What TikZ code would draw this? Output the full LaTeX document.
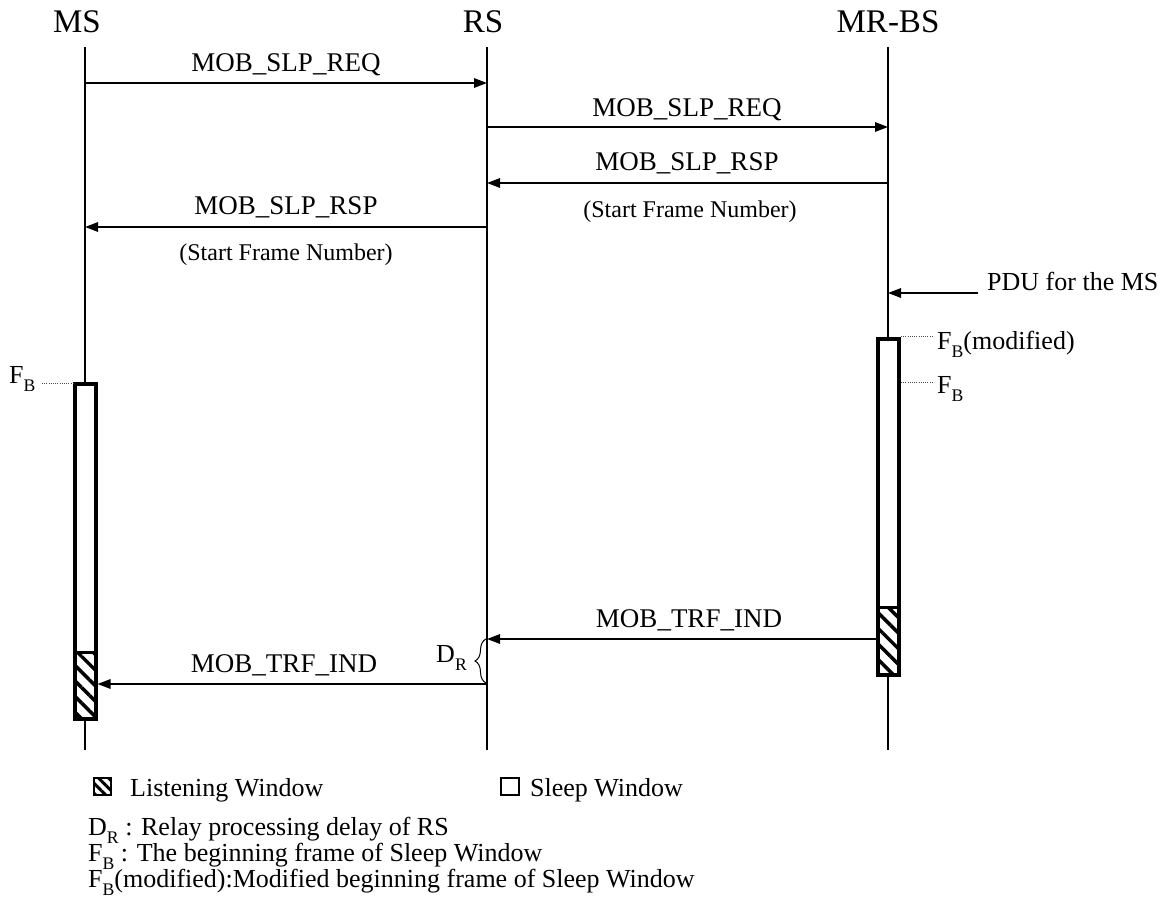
\documentclass[tikz,border=0pt]{standalone}
\usepackage{fontspec}
\setmainfont{Liberation Serif}
\usetikzlibrary{arrows.meta,patterns.meta,decorations.pathreplacing}
\newcommand\lsub[1]{\raisebox{-0.32em}{\scalebox{0.68}{#1}}}
\begin{document}
\begin{tikzpicture}[x=1pt,y=-1pt,
  life/.style={line width=1.4pt},
  msg/.style={line width=1.4pt,-{Triangle[length=13pt,width=9.5pt]}},
  lbl/.style={font=\fontsize{27}{30}\selectfont,anchor=base,inner sep=0pt},
  note/.style={font=\fontsize{24}{28}\selectfont,anchor=base,inner sep=0pt},
  txt/.style={font=\fontsize{26}{30}\selectfont,anchor=base west,inner sep=0pt},
  ttl/.style={font=\fontsize{33}{36}\selectfont,anchor=base,inner sep=0pt},
  winbox/.style={draw,line width=2.7pt,fill=white,inner sep=0pt,minimum width=20.5pt},
  listen/.style={pattern={Lines[angle=-45,distance=11pt,line width=3.5pt]}},
  listensmall/.style={pattern={Lines[angle=-45,distance=7pt,line width=3pt]}},
  dots/.style={line width=1pt,draw=black!70,dash pattern=on 1pt off 1.2pt}]
\useasboundingbox (0,0) rectangle (1162,917);

% titles
\node[ttl] (msT) at (77,33) {MS};
\node[ttl] (rsT) at (483,33) {RS};
\node[ttl] (bsT) at (888,33) {MR-BS};

% lifelines
\coordinate (msTop) at (85,47);  \coordinate (msBot) at (85,750);
\coordinate (rsTop) at (487,47); \coordinate (rsBot) at (487,750);
\coordinate (bsTop) at (888,47); \coordinate (bsBot) at (888,750);
\draw[life] (msTop) -- (msBot);
\draw[life] (rsTop) -- (rsBot);
\draw[life] (bsTop) -- (bsBot);

% windows
\node[winbox,minimum height=334pt,anchor=north] (msW) at (85.5,383) {};
\fill[listen] (msW.south west) rectangle ([yshift=67pt]msW.south east);
\draw[line width=2.7pt] ([yshift=67pt]msW.south west) -- ([yshift=67pt]msW.south east);
\draw[line width=2.7pt] (msW.south west) rectangle (msW.north east);

\node[winbox,minimum height=335pt,anchor=north] (bsW) at (888.5,338) {};
\fill[listen] (bsW.south west) rectangle ([yshift=68pt]bsW.south east);
\draw[line width=2.7pt] ([yshift=68pt]bsW.south west) -- ([yshift=68pt]bsW.south east);
\draw[line width=2.7pt] (bsW.south west) rectangle (bsW.north east);

% messages
\coordinate (ms1) at (85,83);  \coordinate (rs1) at (487,83);
\draw[msg] (ms1) -- (rs1);
\node[lbl] (l1) at (286,72) {MOB\_SLP\_REQ};

\coordinate (rs2) at (487,127); \coordinate (bs2) at (888,127);
\draw[msg] (rs2) -- (bs2);
\node[lbl] (l2) at (687,117) {MOB\_SLP\_REQ};

\coordinate (bs3) at (888,183); \coordinate (rs3) at (487,183);
\draw[msg] (bs3) -- (rs3);
\node[lbl] (l3) at (687,171) {MOB\_SLP\_RSP};
\node[note] (s3) at (690,218) {(Start Frame Number)};

\coordinate (rs4) at (487,227); \coordinate (ms4) at (85,227);
\draw[msg] (rs4) -- (ms4);
\node[lbl] (l4) at (286,215) {MOB\_SLP\_RSP};
\node[note] (s4) at (286,261) {(Start Frame Number)};

\coordinate (pduS) at (978,293); \coordinate (bsP) at (888,293);
\draw[msg] (pduS) -- (bsP);
\node[txt] (pdu) at (987,291) {PDU for the MS};

\coordinate (bs5) at (877,639); \coordinate (rs5) at (487,639);
\draw[msg] (bs5) -- (rs5);
\node[lbl] (l5) at (689,627) {MOB\_TRF\_IND};

\coordinate (rs6) at (487,684); \coordinate (ms6) at (97.5,684);
\draw[msg] (rs6) -- (ms6);
\node[lbl] (l6) at (284,672) {MOB\_TRF\_IND};

% delay brace
\coordinate (brB) at (486,683); \coordinate (brT) at (486,639);
\draw[line width=1pt,decorate,decoration={brace,amplitude=11pt}] (brB) -- (brT);
\node[txt,anchor=base east] (dr) at (467,662) {D\lsub{R}};

% F_B marks
\coordinate (fm1) at (42,383); \coordinate (fm2) at (73,383);
\draw[dots] (fm1) -- (fm2);
\node[txt] (fbms) at (9,383) {F\lsub{B}};

\coordinate (fb1) at (901,337); \coordinate (fb2) at (932,337);
\draw[dots] (fb1) -- (fb2);
\node[txt] (fbmod) at (937,349) {F\lsub{B}(modified)};

\coordinate (fc1) at (901,382); \coordinate (fc2) at (932,382);
\draw[dots] (fc1) -- (fc2);
\node[txt] (fbbs) at (937,393) {F\lsub{B}};

% legend
\fill[listensmall] (94,778) rectangle (111,795);
\draw[line width=2pt] (94,778) rectangle (111,795);
\node[txt] (lw) at (130,796) {Listening Window};
\draw[line width=2pt] (501,778) rectangle (519,795);
\node[txt] (sw) at (530,796) {Sleep Window};

\node[txt] (n1) at (88,835) {D\lsub{R} : Relay processing delay of RS};
\node[txt] (n2) at (88,861) {F\lsub{B} : The beginning frame of Sleep Window};
\node[txt] (n3) at (88,887) {F\lsub{B}(modified):Modified beginning frame of Sleep Window};
\end{tikzpicture}
\end{document}
